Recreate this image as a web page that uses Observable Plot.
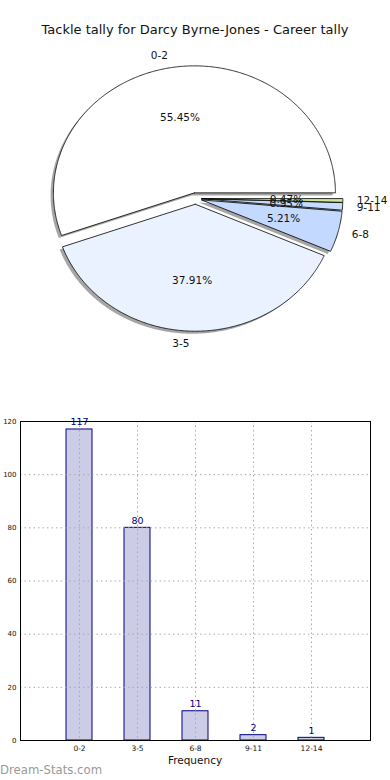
<!DOCTYPE html>
<html>
<head>
<meta charset="utf-8">
<script src="https://cdn.jsdelivr.net/npm/d3@7"></script>
<script src="https://cdn.jsdelivr.net/npm/@observablehq/plot@0.6"></script>
<style>
  html, body { margin: 0; padding: 0; background: #fff; }
  body { width: 390px; height: 780px; position: relative; overflow: hidden; font-family: "DejaVu Sans", sans-serif; }
  #title { position: absolute; left: 0; top: 21px; width: 390px; text-align: center; font-size: 13px; line-height: 18px; color: #111; }
  #pie { position: absolute; left: 0; top: 45px; }
  #bars { position: absolute; left: 0; top: 410px; }
  #xlabel { position: absolute; left: 20px; width: 350px; top: 753px; text-align: center; font-size: 10.5px; line-height: 14px; color: #111; }
  #mark { position: absolute; left: 0; top: 762px; font-size: 11.7px; color: #999; line-height: 16px; }
</style>
</head>
<body>
<div id="title">Tackle tally for Darcy Byrne-Jones - Career tally</div>
<div id="pie"></div>
<div id="bars"></div>
<div id="xlabel">Frequency</div>
<div id="mark">Dream-Stats.com</div>
<script>
// ---- data ----
const categories = ["0-2", "3-5", "6-8", "9-11", "12-14"];
const counts = [117, 80, 11, 2, 1];
const sliceColors = ["#ffffff", "#eaf1ff", "#c3d9ff", "#c6dbff", "#cde69c"];
const yTicks = [0, 20, 40, 60, 80, 100, 120];

// ---- pie (matplotlib-style, counterclockwise from 0°, exploded, with shadow) ----
const explode = 0.045;
const total = d3.sum(counts);
let acc = 0;
const slices = categories.map((c, i) => {
  const a0 = acc / total * 2 * Math.PI;
  acc += counts[i];
  const a1 = acc / total * 2 * Math.PI;
  const mid = (a0 + a1) / 2;
  return {c, v: counts[i], a0, a1, mid, ox: explode * Math.cos(mid), oy: explode * Math.sin(mid), color: sliceColors[i]};
});
function wedgePoints(s, dx, dy) {
  const pts = [{x: s.ox + dx, y: s.oy + dy}];
  const n = Math.max(4, Math.ceil((s.a1 - s.a0) / (Math.PI / 360)));
  for (let k = 0; k <= n; k++) {
    const a = s.a0 + (s.a1 - s.a0) * k / n;
    pts.push({x: s.ox + dx + Math.cos(a), y: s.oy + dy + Math.sin(a)});
  }
  pts.push({x: s.ox + dx, y: s.oy + dy});
  return pts;
}
const pieMarks = [];
for (const s of slices) {
  pieMarks.push(Plot.line(wedgePoints(s, -0.02, -0.02), {x: "x", y: "y", fill: "rgb(77,77,77)", fillOpacity: 0.5, stroke: "none"}));
}
for (const s of slices) {
  pieMarks.push(Plot.line(wedgePoints(s, 0, 0), {x: "x", y: "y", fill: s.color, stroke: "#000", strokeWidth: 0.8}));
}
const labels = slices.map(s => ({
  x: s.ox + 1.1 * Math.cos(s.mid), y: s.oy + 1.1 * Math.sin(s.mid), text: s.c,
  px: s.ox + 0.6 * Math.cos(s.mid), py: s.oy + 0.6 * Math.sin(s.mid),
  pct: (100 * s.v / total).toFixed(2) + "%"
}));
pieMarks.push(Plot.text(labels.filter(d => d.x > 0), {x: "x", y: "y", text: "text", textAnchor: "start", fontSize: 10.5, fill: "#111"}));
pieMarks.push(Plot.text(labels.filter(d => d.x <= 0), {x: "x", y: "y", text: "text", textAnchor: "end", fontSize: 10.5, fill: "#111"}));
pieMarks.push(Plot.text(labels, {x: "px", y: "py", text: "pct", textAnchor: "middle", fontSize: 10.5, fill: "#111"}));

const pieH = 330;
const cx = 195, cy = 198 - 45, rx = 141, ry = 127;
const pie = Plot.plot({
  width: 390, height: pieH, margin: 0,
  style: {fontFamily: "DejaVu Sans, sans-serif", background: "transparent", overflow: "visible"},
  x: {domain: [-cx / rx, (390 - cx) / rx], axis: null},
  y: {domain: [(cy - pieH) / ry, cy / ry], axis: null},
  marks: pieMarks
});
document.getElementById("pie").appendChild(pie);

// ---- bar chart ----
const barData = categories.map((c, i) => ({c, v: counts[i]}));
const bars = Plot.plot({
  width: 390, height: 370,
  marginLeft: 20, marginRight: 20, marginTop: 11, marginBottom: 40,
  style: {fontFamily: "DejaVu Sans, sans-serif", background: "transparent", color: "#111", overflow: "visible"},
  x: {domain: categories, paddingInner: 0.55, paddingOuter: 0.775, axis: null},
  y: {domain: [0, 120], axis: null},
  marks: [
    Plot.barY(barData, {x: "c", y: "v", fill: "#ccccE6", stroke: "#000080", strokeWidth: 1, inset: 0}),
    Plot.ruleX(categories, {x: d => d, stroke: "#aaa", strokeDasharray: "1.5,3", strokeWidth: 1}),
    Plot.ruleY(yTicks, {y: d => d, stroke: "#aaa", strokeDasharray: "1.5,3", strokeWidth: 1}),
    Plot.text(barData, {x: "c", y: "v", text: d => String(d.v), dy: -4, lineAnchor: "bottom", fill: "#000080", fontSize: 9.5}),
    Plot.axisX({tickSize: 0, tickPadding: 5, fontSize: 7.5, label: null}),
    Plot.axisY({ticks: yTicks, tickSize: 0, tickPadding: 4, fontSize: 7, label: null}),
    Plot.frame({stroke: "#000", strokeWidth: 1})
  ]
});
document.getElementById("bars").appendChild(bars);
</script>
</body>
</html>
